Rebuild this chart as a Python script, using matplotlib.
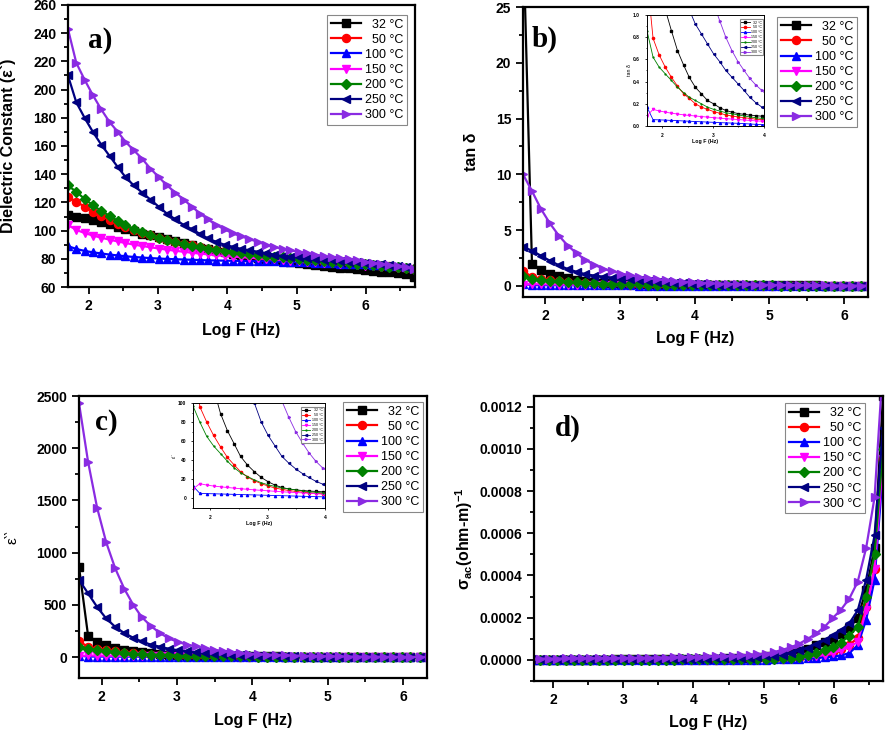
import matplotlib.pyplot as plt
import numpy as np
from matplotlib.ticker import MultipleLocator, FormatStrFormatter

plt.rcParams["font.family"] = ["Liberation Sans", "DejaVu Sans"]
plt.rcParams["font.weight"] = "bold"
plt.rcParams["axes.labelweight"] = "bold"
plt.rcParams["mathtext.fontset"] = "custom"
plt.rcParams["mathtext.rm"] = "Liberation Sans"
plt.rcParams["mathtext.it"] = "Liberation Sans:italic"
plt.rcParams["mathtext.bf"] = "Liberation Sans:bold"

# frequency grid (log10 Hz)
log_f = [1.70, 1.82, 1.94, 2.06, 2.18, 2.30, 2.42, 2.53, 2.65, 2.77, 2.89,
         3.01, 3.13, 3.25, 3.37, 3.49, 3.61, 3.72, 3.84, 3.96, 4.08, 4.20,
         4.32, 4.44, 4.56, 4.68, 4.80, 4.91, 5.03, 5.15, 5.27, 5.39, 5.51,
         5.63, 5.75, 5.87, 5.99, 6.10, 6.22, 6.34, 6.46, 6.58, 6.70]
temps = ["  32", "  50", "100", "150", "200", "250", "300"]

# a) dielectric constant
eps1_32 = [111, 109.8, 108.6, 107.4, 106, 104.5, 102.8, 101.1, 99.4, 97.8, 96.8,
           95.6, 94.2, 92.6, 91, 89.5, 88, 86.8, 85.6, 84.5, 83.4, 82.4, 81.5,
           80.6, 79.8, 79, 78.3, 77.6, 77, 76.3, 75.6, 75, 74.4, 73.8, 73.2,
           72.6, 72, 71.5, 71, 70.4, 69.8, 69, 67]
eps1_50 = [124, 120.5, 117, 113.5, 110.5, 107.5, 105, 102.5, 100.3, 98.3, 96.6,
           95, 93.5, 92.2, 90.8, 89.5, 88.3, 87.2, 86.2, 85.2, 84.3, 83.5, 82.8,
           82.1, 81.5, 80.9, 80.3, 79.8, 79.3, 78.8, 78.4, 78, 77.6, 77.2, 76.8,
           76.4, 76, 75.6, 75.2, 74.8, 74.4, 73.8, 72.5]
eps1_100 = [89, 87, 85.6, 84.6, 83.8, 83, 82.4, 81.8, 81.3, 80.9, 80.5, 80.2,
            79.9, 79.7, 79.5, 79.3, 79.1, 78.9, 78.8, 78.7, 78.6, 78.5, 78.4,
            78.3, 78.2, 78.1, 78, 77.8, 77.6, 77.4, 77.2, 77, 76.8, 76.6, 76.4,
            76.2, 76, 75.8, 75.5, 75.2, 74.8, 74.3, 73.5]
eps1_150 = [104, 100.5, 98.3, 96.5, 95, 93.6, 92.3, 91.2, 90.1, 89.1, 88.2,
            87.3, 86.5, 85.7, 85, 84.3, 83.7, 83.1, 82.6, 82.1, 81.6, 81.2,
            80.8, 80.4, 80, 79.6, 79.2, 78.8, 78.4, 78, 77.6, 77.2, 76.8, 76.4,
            76, 75.6, 75.2, 74.8, 74.4, 74, 73.6, 73.2, 72.5]
eps1_200 = [132, 127.5, 122.5, 118, 114, 110.5, 107, 104, 101, 98.7, 96.8, 95,
            93.5, 92, 90.7, 89.3, 88.2, 87.2, 86.3, 85.5, 84.8, 84, 83.4, 82.8,
            82.2, 81.6, 81, 80.5, 80, 79.5, 79, 78.5, 78, 77.5, 77, 76.5, 76,
            75.5, 75, 74.5, 74, 73.5, 72.5]
eps1_250 = [210, 191, 180, 170, 161, 153, 145, 138, 132, 127, 122, 117, 112,
            108, 104, 101, 97.5, 94.5, 92, 90, 88.5, 87, 86, 85, 84, 83, 82,
            81.5, 81, 80.5, 80, 79.5, 79, 78.5, 78, 77.5, 77, 76.5, 76, 75.5,
            75, 74, 72.5]
eps1_300 = [243, 219, 207, 196, 186, 177, 170, 163, 157, 151, 144, 138, 132,
            127, 122, 117, 112, 108, 104, 101, 98, 96, 94, 92, 90, 88.5, 87, 86,
            85, 84, 83, 82, 81, 80.5, 80, 79, 78, 77, 76.5, 75.5, 75, 74, 72.5]

# b) tan delta
tan_32 = [32, 2.0, 1.45, 1.05, 0.86, 0.68, 0.55, 0.44, 0.35, 0.29, 0.23, 0.20,
          0.165, 0.14, 0.125, 0.112, 0.105, 0.098, 0.093, 0.088, 0.083, 0.078,
          0.073, 0.068, 0.063, 0.058, 0.054, 0.05, 0.046, 0.042, 0.038, 0.035,
          0.032, 0.029, 0.026, 0.023, 0.02, 0.018, 0.016, 0.014, 0.012, 0.01,
          0.008]
tan_50 = [1.35, 0.79, 0.64, 0.53, 0.44, 0.36, 0.29, 0.25, 0.20, 0.17, 0.15,
          0.13, 0.115, 0.10, 0.09, 0.082, 0.075, 0.068, 0.062, 0.057, 0.052,
          0.048, 0.044, 0.04, 0.037, 0.034, 0.031, 0.028, 0.026, 0.024, 0.022,
          0.02, 0.018, 0.016, 0.015, 0.014, 0.013, 0.012, 0.011, 0.01, 0.009,
          0.008, 0.007]
tan_100 = [0.17, 0.057, 0.055, 0.053, 0.05, 0.048, 0.045, 0.043, 0.04, 0.038,
           0.035, 0.033, 0.03, 0.028, 0.026, 0.024, 0.021, 0.018, 0.015, 0.012,
           0.011, 0.01, 0.009, 0.008, 0.007, 0.0065, 0.006, 0.0055, 0.005,
           0.0045, 0.004, 0.0038, 0.0036, 0.0034, 0.0032, 0.003, 0.0028,
           0.0026, 0.0024, 0.0022, 0.002, 0.0018, 0.0016]
tan_150 = [0.09, 0.15, 0.135, 0.125, 0.115, 0.108, 0.10, 0.095, 0.09, 0.085,
           0.08, 0.075, 0.07, 0.066, 0.062, 0.058, 0.054, 0.05, 0.046, 0.043,
           0.04, 0.037, 0.034, 0.032, 0.03, 0.028, 0.026, 0.024, 0.022, 0.02,
           0.019, 0.018, 0.017, 0.016, 0.015, 0.014, 0.013, 0.012, 0.011, 0.01,
           0.009, 0.008, 0.007]
tan_200 = [0.86, 0.62, 0.53, 0.47, 0.41, 0.35, 0.30, 0.26, 0.23, 0.20, 0.17,
           0.15, 0.135, 0.12, 0.11, 0.10, 0.09, 0.082, 0.075, 0.068, 0.062,
           0.057, 0.052, 0.048, 0.044, 0.04, 0.037, 0.034, 0.031, 0.028, 0.026,
           0.024, 0.022, 0.02, 0.018, 0.016, 0.015, 0.014, 0.013, 0.012, 0.011,
           0.01, 0.009]
tan_250 = [3.5, 3.15, 2.7, 2.25, 1.85, 1.5, 1.25, 1.05, 0.92, 0.83, 0.74, 0.65,
           0.58, 0.50, 0.44, 0.38, 0.32, 0.26, 0.21, 0.17, 0.14, 0.115, 0.095,
           0.08, 0.068, 0.058, 0.05, 0.043, 0.037, 0.032, 0.028, 0.025, 0.022,
           0.02, 0.018, 0.016, 0.015, 0.014, 0.013, 0.012, 0.011, 0.01, 0.009]
tan_300 = [10.0, 8.5, 6.9, 5.6, 4.5, 3.6, 2.9, 2.35, 1.9, 1.55, 1.3, 1.1, 0.95,
           0.80, 0.68, 0.58, 0.50, 0.43, 0.37, 0.32, 0.27, 0.23, 0.2, 0.17,
           0.145, 0.125, 0.105, 0.09, 0.078, 0.067, 0.058, 0.05, 0.043, 0.037,
           0.032, 0.028, 0.025, 0.022, 0.02, 0.018, 0.016, 0.014, 0.012]

# c) dielectric loss
eps2_32 = [860, 205, 148, 115, 89, 71, 57, 44, 35, 28, 22, 17.5, 14, 11.5, 10,
           9, 8.3, 7.8, 7.4, 7, 6.6, 6.2, 5.8, 5.4, 5, 4.7, 4.4, 4.1, 3.8, 3.5,
           3.2, 2.9, 2.6, 2.4, 2.2, 2, 1.8, 1.6, 1.5, 1.4, 1.3, 1.2, 1.1]
eps2_50 = [155, 96, 80, 66, 54, 43, 35, 28, 22.5, 18.5, 15.5, 13, 11, 9.5, 8.3,
           7.4, 6.6, 6, 5.4, 4.9, 4.5, 4.1, 3.8, 3.5, 3.2, 3, 2.8, 2.6, 2.4,
           2.2, 2, 1.8, 1.7, 1.6, 1.5, 1.4, 1.3, 1.2, 1.1, 1.0, 0.9, 0.8, 0.7]
eps2_100 = [13, 5.3, 5.1, 4.9, 4.7, 4.5, 4.3, 4.1, 3.9, 3.7, 3.5, 3.3, 3.1,
            2.9, 2.7, 2.5, 2.3, 2.1, 1.9, 1.7, 1.5, 1.35, 1.2, 1.1, 1.0, 0.9,
            0.8, 0.7, 0.65, 0.6, 0.55, 0.5, 0.45, 0.4, 0.37, 0.34, 0.31, 0.28,
            0.25, 0.22, 0.2, 0.18, 0.16]
eps2_150 = [10, 15.5, 14, 13, 12.2, 11.5, 10.8, 10.2, 9.6, 9, 8.5, 8, 7.5, 7,
            6.6, 6.2, 5.8, 5.4, 5, 4.6, 4.3, 4, 3.7, 3.4, 3.1, 2.9, 2.7, 2.5,
            2.3, 2.1, 1.9, 1.8, 1.7, 1.6, 1.5, 1.4, 1.3, 1.2, 1.1, 1.0, 0.9,
            0.8, 0.7]
eps2_200 = [97, 80, 65, 55, 47, 39, 32, 27, 23, 19.5, 16.5, 14.3, 12.6, 11, 10,
            9, 8, 7.2, 6.5, 5.8, 5.3, 4.8, 4.4, 4, 3.7, 3.4, 3.1, 2.9, 2.7, 2.5,
            2.3, 2.1, 1.9, 1.8, 1.7, 1.6, 1.5, 1.4, 1.3, 1.2, 1.1, 1.0, 0.9]
eps2_250 = [740, 610, 480, 370, 290, 230, 185, 150, 120, 100, 80, 66, 55, 44,
            37, 31, 26, 22, 18, 15, 12.5, 10.5, 9, 7.5, 6.5, 5.5, 4.8, 4.2, 3.6,
            3.1, 2.7, 2.4, 2.1, 1.9, 1.7, 1.5, 1.4, 1.3, 1.2, 1.1, 1.0, 0.9, 0.8]
eps2_300 = [2430, 1870, 1430, 1100, 850, 655, 500, 385, 300, 232, 180, 145, 120,
            102, 85, 70, 58, 48, 39, 32, 27, 23, 19.5, 16.5, 14, 12, 10, 8.5,
            7.2, 6.1, 5.2, 4.4, 3.8, 3.2, 2.8, 2.4, 2.1, 1.8, 1.6, 1.4, 1.2,
            1.1, 1.0]

# d) ac conductivity, in units of 1e-4 (ohm-m)^-1
sig_32 = [0.01, 0.01, 0.01, 0.01, 0.01, 0.01, 0.01, 0.01, 0.01, 0.01, 0.02,
          0.02, 0.02, 0.02, 0.02, 0.03, 0.03, 0.03, 0.04, 0.04, 0.05, 0.05,
          0.06, 0.07, 0.08, 0.09, 0.11, 0.13, 0.16, 0.2, 0.25, 0.32, 0.42,
          0.53, 0.69, 0.85, 1.0, 1.22, 1.5, 2.0, 3.3, 5.3, 12.5]
sig_50 = [0.005, 0.005, 0.005, 0.005, 0.005, 0.005, 0.005, 0.006, 0.006, 0.006,
          0.007, 0.007, 0.007, 0.008, 0.008, 0.009, 0.009, 0.01, 0.01, 0.011,
          0.012, 0.013, 0.014, 0.015, 0.017, 0.019, 0.022, 0.026, 0.03, 0.04,
          0.05, 0.07, 0.1, 0.14, 0.2, 0.28, 0.38, 0.5, 0.7, 1.05, 2.5, 4.3, 9.5]
sig_100 = [0.003, 0.003, 0.003, 0.003, 0.003, 0.003, 0.003, 0.003, 0.003,
           0.004, 0.004, 0.004, 0.004, 0.004, 0.005, 0.005, 0.005, 0.005,
           0.006, 0.006, 0.006, 0.007, 0.007, 0.008, 0.008, 0.009, 0.01,
           0.012, 0.015, 0.02, 0.03, 0.04, 0.05, 0.07, 0.09, 0.12, 0.16, 0.21,
           0.32, 0.69, 1.9, 3.8, 9.0]
sig_150 = [0.004, 0.004, 0.004, 0.004, 0.004, 0.004, 0.004, 0.005, 0.005,
           0.005, 0.005, 0.005, 0.006, 0.006, 0.006, 0.007, 0.007, 0.007,
           0.008, 0.008, 0.009, 0.009, 0.01, 0.011, 0.012, 0.013, 0.015, 0.017,
           0.02, 0.03, 0.04, 0.06, 0.08, 0.12, 0.17, 0.24, 0.33, 0.45, 0.6,
           0.85, 2.37, 4.3, 9.5]
sig_200 = [0.01, 0.01, 0.01, 0.01, 0.01, 0.01, 0.01, 0.01, 0.01, 0.01, 0.01,
           0.01, 0.01, 0.01, 0.01, 0.015, 0.015, 0.015, 0.02, 0.02, 0.02,
           0.025, 0.025, 0.03, 0.03, 0.035, 0.04, 0.045, 0.05, 0.06, 0.08,
           0.11, 0.15, 0.21, 0.32, 0.45, 0.61, 0.82, 1.14, 1.57, 2.96, 5.0, 10]
sig_250 = [0.02, 0.02, 0.02, 0.02, 0.02, 0.02, 0.02, 0.02, 0.02, 0.03, 0.03,
           0.03, 0.03, 0.03, 0.04, 0.04, 0.04, 0.04, 0.05, 0.05, 0.06, 0.06,
           0.07, 0.07, 0.08, 0.09, 0.11, 0.13, 0.16, 0.2, 0.25, 0.32, 0.45,
           0.58, 0.74, 0.93, 1.17, 1.4, 1.73, 2.34, 3.8, 5.9, 11]
sig_300 = [0.06, 0.06, 0.06, 0.06, 0.07, 0.07, 0.07, 0.07, 0.08, 0.08, 0.08,
           0.09, 0.09, 0.1, 0.1, 0.11, 0.11, 0.12, 0.13, 0.14, 0.15, 0.16,
           0.17, 0.18, 0.19, 0.21, 0.23, 0.26, 0.29, 0.37, 0.48, 0.6, 0.77,
           1.0, 1.25, 1.57, 2.0, 2.37, 2.9, 3.7, 5.3, 7.7, 14]

colors = ["black", "red", "blue", "magenta", "green", "navy", "#8A2BE2"]
markers = ["s", "o", "^", "v", "D", "<", ">"]


def draw(ax, series, lw=1.6, ms=5.8):
    for vals, c, m, t in zip(series, colors, markers, temps):
        ms_i = ms - 1 if m == "D" else ms
        ax.plot(log_f, vals, color=c, marker=m, lw=lw, ms=ms_i,
                label=t + " \u00b0C")


def style(ax, xmaj, xmin, ymaj, ymin, size=10, spine=1.6, tl=5, fmt=None):
    ax.xaxis.set_major_locator(MultipleLocator(xmaj))
    ax.xaxis.set_minor_locator(MultipleLocator(xmin))
    ax.yaxis.set_major_locator(MultipleLocator(ymaj))
    ax.yaxis.set_minor_locator(MultipleLocator(ymin))
    if fmt:
        ax.yaxis.set_major_formatter(FormatStrFormatter(fmt))
    ax.tick_params(which="both", direction="out", top=False, right=False,
                   labelsize=size, width=spine * 0.8)
    ax.tick_params(which="major", length=tl)
    ax.tick_params(which="minor", length=tl * 0.6)
    for s in ax.spines.values():
        s.set_linewidth(spine)


def legend(ax, anchor, size=9):
    leg = ax.legend(loc="upper right", bbox_to_anchor=anchor, borderaxespad=0,
                    prop={"weight": "normal", "size": size},
                    numpoints=1, handlelength=2.4, handletextpad=0.3,
                    labelspacing=0.25, borderpad=0.3, fancybox=False,
                    framealpha=1, edgecolor="#888888")
    leg.get_frame().set_linewidth(0.8)
    return leg


def panel_label(ax, x, y, s):
    ax.text(x, y, s, transform=ax.transAxes, fontsize=21,
            family="Liberation Serif", weight="bold", va="center")


fig = plt.figure(figsize=(8.86, 7.32), dpi=100)

# ---- a)
ax_a = fig.add_axes([0.0767, 0.6079, 0.3917, 0.3853])
draw(ax_a, [eps1_32, eps1_50, eps1_100, eps1_150, eps1_200, eps1_250, eps1_300])
ax_a.set_xlim(1.7, 6.71)
ax_a.set_ylim(60, 260)
style(ax_a, 1, 0.5, 20, 10)
ax_a.set_xlabel("Log F (Hz)", fontsize=11.5)
ax_a.set_ylabel("Dielectric Constant (\u03b5`)", fontsize=11.5)
ax_a.yaxis.set_label_coords(-0.15, 0.5)
ax_a.xaxis.set_label_coords(0.5, -0.128)
panel_label(ax_a, 0.058, 0.875, "a)")
legend(ax_a, (0.977, 0.965))

# ---- b)
ax_b = fig.add_axes([0.5903, 0.5943, 0.3894, 0.3961])
draw(ax_b, [tan_32, tan_50, tan_100, tan_150, tan_200, tan_250, tan_300])
ax_b.set_xlim(1.7, 6.32)
ax_b.set_ylim(-1, 25)
style(ax_b, 1, 0.5, 5, 2.5)
ax_b.set_xlabel("Log F (Hz)", fontsize=11.5)
ax_b.set_ylabel("tan \u03b4", fontsize=11.5)
ax_b.yaxis.set_label_coords(-0.128, 0.5)
ax_b.xaxis.set_label_coords(0.5, -0.117)
panel_label(ax_b, 0.026, 0.89, "b)")
legend(ax_b, (0.968, 0.966))

ins_b = fig.add_axes([0.7302, 0.8279, 0.132, 0.1516])
draw(ins_b, [tan_32, tan_50, tan_100, tan_150, tan_200, tan_250, tan_300],
     lw=0.6, ms=1.6)
ins_b.set_xlim(1.7, 4)
ins_b.set_ylim(0, 1)
style(ins_b, 1, 0.5, 0.2, 0.1, size=3.5, spine=0.7, tl=1.5, fmt="%.1f")
ins_b.set_xlabel("Log F (Hz)", fontsize=3.8, labelpad=1)
ins_b.set_ylabel("tan \u03b4", fontsize=3.8, labelpad=1, weight="normal")
legend(ins_b, (0.99, 0.96), size=2.6)

# ---- c)
ax_c = fig.add_axes([0.0892, 0.0738, 0.3928, 0.3852])
draw(ax_c, [eps2_32, eps2_50, eps2_100, eps2_150, eps2_200, eps2_250, eps2_300])
ax_c.set_xlim(1.7, 6.32)
ax_c.set_ylim(-200, 2500)
style(ax_c, 1, 0.5, 500, 250)
ax_c.set_xlabel("Log F (Hz)", fontsize=11.5)
ax_c.set_ylabel("\u03b5\u2035\u2035", fontsize=11, weight="normal")
ax_c.yaxis.set_label_coords(-0.172, 0.5)
ax_c.xaxis.set_label_coords(0.5, -0.124)
panel_label(ax_c, 0.046, 0.905, "c)")
legend(ax_c, (0.989, 0.979))

ins_c = fig.add_axes([0.2178, 0.306, 0.149, 0.1434])
draw(ins_c, [eps2_32, eps2_50, eps2_100, eps2_150, eps2_200, eps2_250, eps2_300],
     lw=0.6, ms=1.6)
ins_c.set_xlim(1.7, 4)
ins_c.set_ylim(-10, 100)
style(ins_c, 1, 0.5, 20, 10, size=3.5, spine=0.7, tl=1.5)
ins_c.set_xlabel("Log F (Hz)", fontsize=3.8, labelpad=1)
ins_c.set_ylabel("\u03b5\u2035\u2035", fontsize=3.8, labelpad=1, weight="normal")
legend(ins_c, (0.99, 0.96), size=2.6)

# ---- d)
ax_d = fig.add_axes([0.6027, 0.0697, 0.3939, 0.3893])
sig_all = [np.array(s) * 1e-4 for s in
           [sig_32, sig_50, sig_100, sig_150, sig_200, sig_250, sig_300]]
draw(ax_d, sig_all)
ax_d.set_xlim(1.73, 6.7)
ax_d.set_ylim(-0.0001, 0.00125)
style(ax_d, 1, 0.5, 0.0002, 0.0001, fmt="%.4f")
ax_d.set_xlabel("Log F (Hz)", fontsize=11.5)
ax_d.set_ylabel(r"$\mathrm{\sigma_{ac}}$(ohm-m)$^{\mathbf{-1}}$",
                fontsize=11.5)
ax_d.yaxis.set_label_coords(-0.169, 0.5)
ax_d.xaxis.set_label_coords(0.5, -0.119)
panel_label(ax_d, 0.06, 0.885, "d)")
legend(ax_d, (0.948, 0.975))

fig.savefig("out.png", dpi=100)
